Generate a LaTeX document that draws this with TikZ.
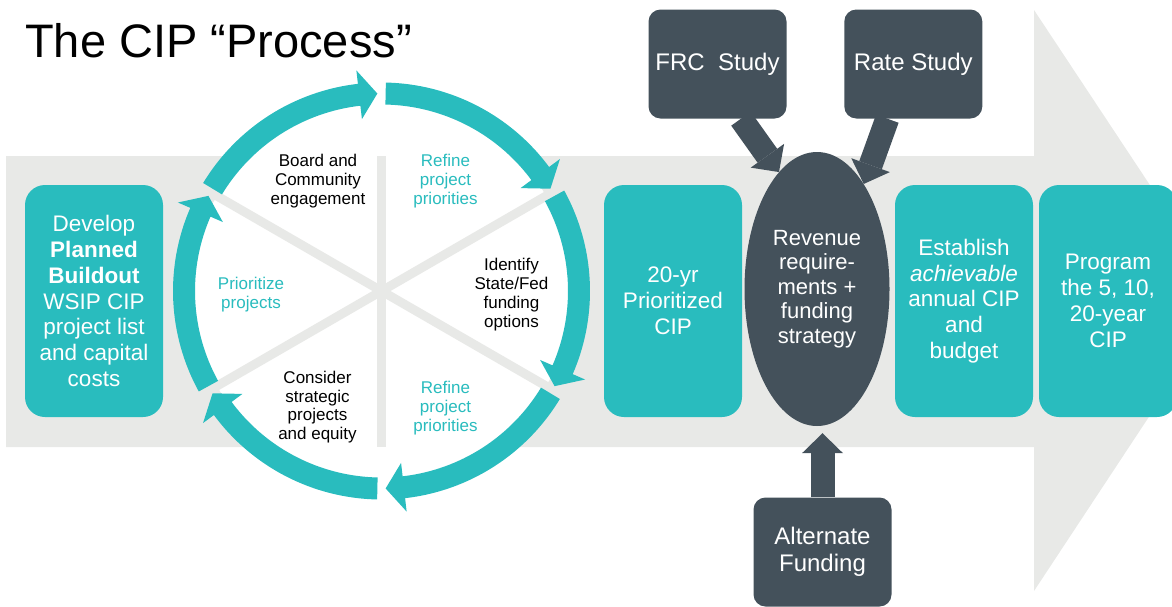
\documentclass[tikz,border=0pt]{standalone}
\usepackage{fontspec}
\setmainfont{Liberation Sans}
\usetikzlibrary{shapes.geometric,arrows.meta}

\definecolor{cipteal}{RGB}{41,188,190}
\definecolor{slate}{RGB}{68,81,91}
\definecolor{bandgray}{RGB}{232,233,231}

\begin{document}
\begin{tikzpicture}[x=1pt,y=-1pt]
    \useasboundingbox (0,0) rectangle (1172,606);

    % background arrow
    \fill[bandgray] (6,156) -- (1034,156) -- (1034,10) -- (1226,300) -- (1034,591) -- (1034,447) -- (6,447) -- cycle;

    \node[anchor=base west, inner sep=0pt, font=\fontsize{47}{50}\selectfont] (title) at (25,57) {The CIP “Process”};

    % the cycle
    \begin{scope}[shift={(381.5,291)}, yscale=-1]
        \fill[white] (0,0) circle[radius=190];
        \draw[bandgray, line width=9pt] (0,135) -- (0,-156);
        \foreach \a in {30,150,210,330}
            \draw[bandgray, line width=9pt] (0,0) -- (\a:200);
        \foreach \a in {150,90,...,-150}
            \fill[cipteal] (\a-1.2:208.5) arc[start angle=\a-1.2, end angle=\a-53.5, radius=208.5]
                -- (\a-53.5:222) -- (\a-58.8:197.5) -- (\a-53.5:173) -- (\a-53.5:186.5)
                arc[start angle=\a-53.5, end angle=\a-1.2, radius=186.5] -- cycle;
    \end{scope}

    \begin{scope}[every node/.style={align=center, font=\fontsize{17}{18.8}\selectfont}]
        \node (board) at (318,181) {Board and\\Community\\engagement};
        \node[text=cipteal] (refine1) at (445.5,181) {Refine\\project\\priorities};
        \node (identify) at (511.5,294.5) {Identify\\State/Fed\\funding\\options};
        \node[text=cipteal] (refine2) at (445.5,408) {Refine\\project\\priorities};
        \node (consider) at (317.5,407) {Consider\\strategic\\projects\\and equity};
        \node[text=cipteal] (prioritize) at (251,294.5) {Prioritize\\projects};
    \end{scope}

    \begin{scope}[every node/.style={fill=cipteal, text=white, rounded corners=20pt, minimum width=138pt, minimum height=232pt, inner sep=0pt, align=center, font=\fontsize{22.5}{25.8}\selectfont}]
        \node (develop) at (94,301) {Develop\\\textbf{Planned}\\\textbf{Buildout}\\WSIP CIP\\project list\\and capital\\costs};
        \node (prioritized) at (673,301) {20-yr\\Prioritized\\CIP};
        \node (establish) at (964,301) {Establish\\\textit{achievable}\\annual CIP\\and\\budget};
        \node (program) at (1108,301) {Program\\the 5, 10,\\20-year\\CIP};
    \end{scope}

    \begin{scope}[every node/.style={fill=slate, text=white, rounded corners=12pt, minimum width=138pt, minimum height=109pt, inner sep=0pt, align=center, font=\fontsize{24}{27.5}\selectfont}]
        \node (frc) at (717.5,64) {\raisebox{-5pt}{FRC~~Study}};
        \node (rate) at (913.3,64) {Rate Study};
        \node (alt) at (822.5,552) {Alternate\\Funding};
        \node[ellipse, minimum width=145pt, minimum height=274pt, font=\fontsize{22}{24.5}\selectfont] (revenue) at (817,289) {Revenue\\require-\\ments +\\funding\\strategy};
    \end{scope}

    \begin{scope}[every edge/.style={draw=slate, line width=24pt}, >={Triangle[width=41pt,length=20pt,line width=0pt]}]
        \path [->] ([xshift=23.5pt]frc.south) edge (revenue.108.7);
        \path [->] ([xshift=-26pt]rate.south) edge (revenue.66);
        \path [->] (alt.north) edge ([yshift=-7pt]alt.north |- revenue.south);
    \end{scope}

\end{tikzpicture}
\end{document}
